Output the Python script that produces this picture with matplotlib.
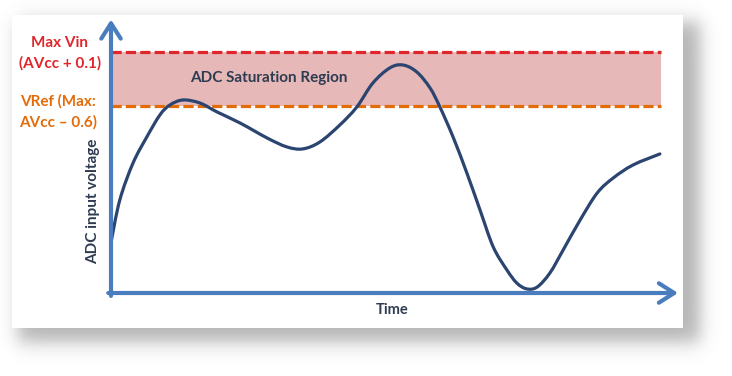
import numpy as np
import matplotlib
matplotlib.use("Agg")
import matplotlib.pyplot as plt
from matplotlib.path import Path
from matplotlib.patches import PathPatch

# ---------------- data ----------------
time = [0.0, 1.6, 4.0, 6.5, 8.9, 10.7, 13.1, 16.2, 19.3, 23.5, 28.4, 32.0, 34.9,
        38.0, 41.6, 44.7, 47.6, 50.7, 53.1, 55.6, 58.0, 59.8, 62.2, 64.7, 67.1,
        69.5, 72.0, 73.8, 75.6, 77.5, 79.8, 82.2, 85.3, 88.4, 91.3, 94.9, 99.8]
voltage = [2.1, 3.86, 5.39, 6.47, 7.39, 7.80, 8.01, 7.88, 7.51, 7.05, 6.43, 6.06, 5.98,
           6.27, 6.97, 7.72, 8.71, 9.34, 9.46, 9.17, 8.51, 7.72, 6.47, 4.98, 3.44,
           1.91, 0.95, 0.41, 0.17, 0.25, 0.83, 1.78, 3.03, 4.15, 4.77, 5.31, 5.77]
max_vin_level = 10.0
vref_level = 7.76
region_t = [0, 100]
max_vin_label = ["Max Vin", "(AVcc + 0.1)"]
vref_label = ["VRef (Max:", "AVcc \u2013 0.6)"]
region_label = "ADC Saturation Region"
x_label = "Time"
y_label = "ADC input voltage"

# ---------------- style ----------------
W, H = 732, 376
DPI = 100
plt.rcParams['font.family'] = ['Lato', 'DejaVu Sans']
RED = "#E0252B"
ORANGE = "#E36C0A"
BLUE = "#4A7DBD"
NAVY = "#2B4470"
FILL = "#E6B9B8"
TXT = "#2E3B50"

fig = plt.figure(figsize=(W / DPI, H / DPI), dpi=DPI)
fig.patch.set_facecolor("white")

# background: panel with drop shadow (pixel coordinates)
bg = fig.add_axes([0, 0, 1, 1])
bg.set_xlim(0, W)
bg.set_ylim(H, 0)
bg.axis("off")
xx = np.arange(W) + 0.5
yy = np.arange(H) + 0.5
def soft(a, lo, hi, s):
    return 1 / (1 + np.exp(-(a - lo) / s)) * 1 / (1 + np.exp((a - hi) / s))
sh = np.outer(soft(yy, 22, 342, 5.5), soft(xx, 18, 700, 5.0))
shadow = np.ones((H, W, 4))
shadow[..., :3] = 0.35
shadow[..., 3] = 0.45 * sh
bg.imshow(shadow, extent=(0, W, H, 0), zorder=0, interpolation="bilinear")
bg.add_patch(plt.Rectangle((12, 15), 671, 313, facecolor="white", edgecolor="none", zorder=1))

# main axes: t 0..100 -> px 111..661 ; v 0..10 -> py 293..52
ax = fig.add_axes([111 / W, (H - 293) / H, 550 / W, 241 / H])
ax.set_xlim(0, 100)
ax.set_ylim(0, 10)
ax.axis("off")
ax.patch.set_alpha(0)

ax.fill_between(region_t, vref_level, max_vin_level, color=FILL, lw=0, zorder=1)
ax.plot(region_t, [max_vin_level] * 2, color=RED, lw=2.3, dashes=(3.2, 1.3), zorder=2,
        clip_on=False)
ax.plot(region_t, [vref_level] * 2, color=ORANGE, lw=2.3, dashes=(3.2, 1.3), zorder=2,
        clip_on=False)

# smooth curve through the read points (Catmull-Rom rendered as cubic Bezier path)
P = np.column_stack([time, voltage])
verts = [P[0]]
codes = [Path.MOVETO]
n = len(P)
for i in range(n - 1):
    p0 = P[i - 1] if i > 0 else P[i]
    p1, p2 = P[i], P[i + 1]
    p3 = P[i + 2] if i + 2 < n else P[i + 1]
    c1 = p1 + (p2 - p0) / 6.0
    c2 = p2 - (p3 - p1) / 6.0
    verts += [c1, c2, p2]
    codes += [Path.CURVE4] * 3
curve = PathPatch(Path(verts, codes), facecolor="none", edgecolor=NAVY, lw=2.3,
                  capstyle="round", joinstyle="round", zorder=4, clip_on=False,
                  transform=ax.transData)
ax.add_patch(curve)

arrow_kw = dict(arrowstyle="->,head_length=1.1,head_width=0.7", lw=3.0, color=BLUE,
                shrinkA=0, shrinkB=0, capstyle="round", joinstyle="round")
ax.annotate("", xy=(103.1, 0), xytext=(-0.5, 0), arrowprops=arrow_kw,
            annotation_clip=False, zorder=5)
ax.annotate("", xy=(0, 11.35), xytext=(0, -0.12), arrowprops=arrow_kw,
            annotation_clip=False, zorder=5)

def ftext(px, py, s, **kw):
    fig.text(px / W, 1 - py / H, s, ha="center", va="center", **kw)

ftext(60, 43, max_vin_label[0], color=RED, fontsize=11, fontweight="bold")
ftext(60, 63, max_vin_label[1], color=RED, fontsize=11, fontweight="bold")
ftext(58, 101, vref_label[0], color=ORANGE, fontsize=11, fontweight="bold")
ftext(58, 122, vref_label[1], color=ORANGE, fontsize=11, fontweight="bold")
ftext(269, 78, region_label, color=TXT, fontsize=11, fontweight="bold")
ftext(93, 201, y_label, color=TXT, fontsize=11, fontweight="bold", rotation=90)
ftext(392, 310, x_label, color=TXT, fontsize=10.5, fontweight="bold")

fig.savefig("out.png", dpi=DPI)
